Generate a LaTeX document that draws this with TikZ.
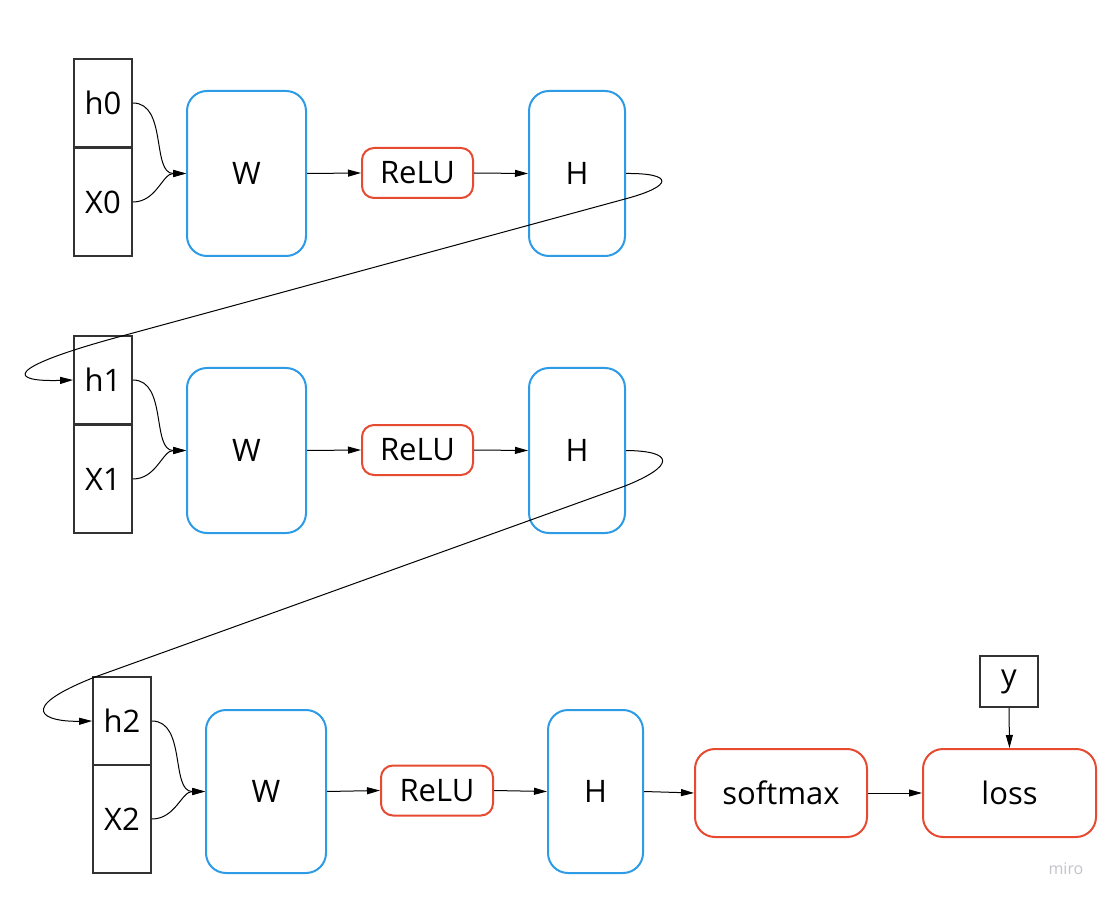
\documentclass[tikz,border=0pt]{standalone}
\usepackage{fontspec}
\setmainfont{Open Sans}
\usetikzlibrary{arrows.meta}
\definecolor{miroblue}{RGB}{45,155,230}
\definecolor{mirored}{RGB}{230,75,50}
\definecolor{boxgray}{RGB}{50,50,50}
\definecolor{markgray}{RGB}{195,195,202}
\begin{document}
\begin{tikzpicture}[x=1pt,y=-1pt,
  font=\fontsize{31}{36}\selectfont,
  vec/.style={draw=boxgray,line width=1.8pt,minimum width=58pt,inner sep=0pt},
  layer/.style={draw=miroblue,line width=2pt,rounded corners=20pt,minimum height=165pt,inner sep=0pt},
  op/.style={draw=mirored,line width=2pt,rounded corners=12pt,inner sep=0pt},
  conn/.style={line width=1pt,-{Triangle[length=13pt,width=7pt]}}]
\useasboundingbox (0,0) rectangle (1109,901);

\node[vec,minimum height=88pt] (h0) at (103,103) {h0};
\node[vec,minimum height=108pt] (X0) at (103,202) {X0};
\node[layer,minimum width=119pt] (W0) at (246.5,173.5) {W};
\node[op,minimum width=111pt,minimum height=50pt] (relu0) at (417.5,173) {ReLU};
\node[layer,minimum width=96pt] (H0) at (577,173.5) {H};

\node[vec,minimum height=88pt] (h1) at (103,380) {h1};
\node[vec,minimum height=108pt] (X1) at (103,479) {X1};
\node[layer,minimum width=119pt] (W1) at (246.5,450.5) {W};
\node[op,minimum width=111pt,minimum height=50pt] (relu1) at (417.5,450) {ReLU};
\node[layer,minimum width=96pt] (H1) at (577,450.5) {H};

\node[vec,minimum height=88pt] (h2) at (122,721) {h2};
\node[vec,minimum height=108pt] (X2) at (122,819) {X2};
\node[layer,minimum width=120pt,minimum height=163pt] (W2) at (266,791.5) {W};
\node[op,minimum width=112pt,minimum height=50pt] (relu2) at (437,790.5) {ReLU};
\node[layer,minimum width=95pt,minimum height=163pt] (H2) at (595.5,791.5) {H};
\node[op,rounded corners=20pt,minimum width=172pt,minimum height=88pt] (softmax) at (781,793) {softmax};
\node[op,rounded corners=20pt,minimum width=173pt,minimum height=88pt] (loss) at (1009.5,793) {loss};
\node[vec,minimum height=51pt] (y) at (1009,681.5) {y};

\node[text=markgray,font=\fontsize{16}{18}\selectfont] (miro) at (1066,869) {miro};

\draw[conn] (h0.east) to[out=0,in=180] (W0.west);
\draw[conn] (X0.east) to[out=0,in=180] (W0.west);
\draw[conn] (W0.east) -- (relu0.west);
\draw[conn] (relu0.east) -- (H0.west);
\draw[conn] (H0.east) .. controls (674,173) and (674,186) .. (625,199) -- (122,336)
  .. controls (0,369) and (10,382) .. (h1.west);

\draw[conn] (h1.east) to[out=0,in=180] (W1.west);
\draw[conn] (X1.east) to[out=0,in=180] (W1.west);
\draw[conn] (W1.east) -- (relu1.west);
\draw[conn] (relu1.east) -- (H1.west);
\draw[conn] (H1.east) .. controls (675,451) and (675,466) .. (625,486) -- (95,677)
  .. controls (14,709) and (44,722) .. (h2.west);

\draw[conn] (h2.east) to[out=0,in=180] (W2.west);
\draw[conn] (X2.east) to[out=0,in=180] (W2.west);
\draw[conn] (W2.east) -- (relu2.west);
\draw[conn] (relu2.east) -- (H2.west);
\draw[conn] (H2.east) -- (softmax.west);
\draw[conn] (softmax.east) -- (loss.west);
\draw[conn] (y.south) -- (loss.north);
\end{tikzpicture}
\end{document}
